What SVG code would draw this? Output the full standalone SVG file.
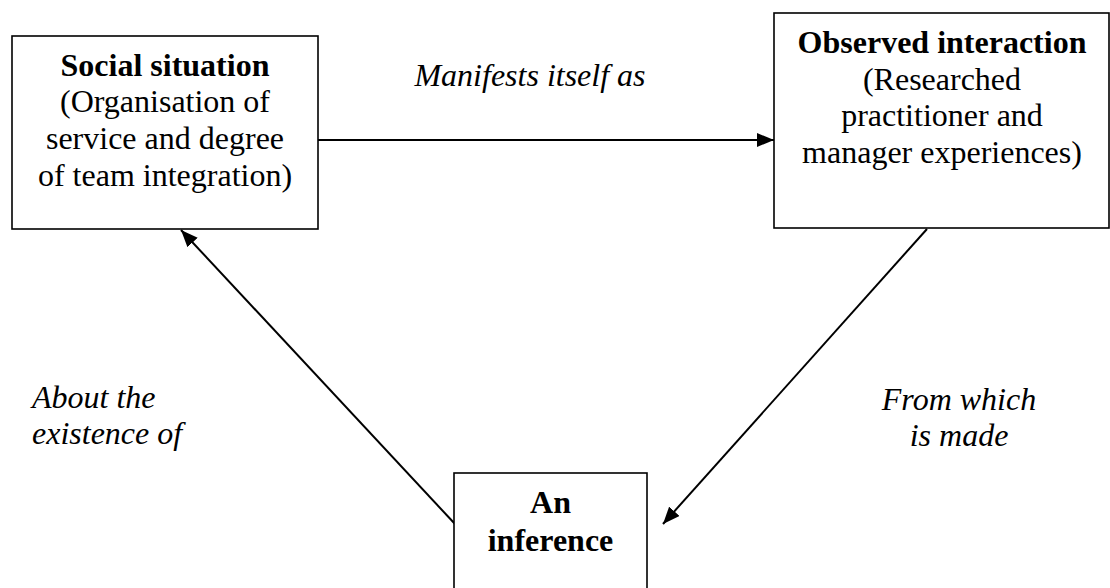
<svg xmlns="http://www.w3.org/2000/svg" width="1110" height="588" viewBox="0 0 1110 588">
  <style>
    .box { fill: #ffffff; stroke: #000000; stroke-width: 1.6; }
    .t { font-family: 'Liberation Serif', 'Times New Roman', serif; font-size: 32px; fill: #000000; text-anchor: middle; }
    .b { font-weight: bold; }
    .i { font-style: italic; }
    .conn { stroke: #000000; stroke-width: 2; fill: none; marker-end: url(#arrow); }
  </style>
  <defs>
    <marker id="arrow" markerUnits="userSpaceOnUse" markerWidth="18" markerHeight="14" refX="17" refY="7" orient="auto">
      <path d="M0,0 L17,7 L0,14 Z" fill="#000000"/>
    </marker>
  </defs>
  <rect width="1110" height="588" fill="#ffffff"/>

  <g id="connectors">
    <line class="conn" x1="318" y1="140" x2="774" y2="140"/>
    <line class="conn" x1="455" y1="524" x2="181" y2="230"/>
    <line class="conn" x1="927" y1="229" x2="663" y2="524"/>
    <text class="t i" x="530" y="86">Manifests itself as</text>
    <text class="t i" x="32" y="408" style="text-anchor:start">About the</text>
    <text class="t i" x="32" y="444" style="text-anchor:start">existence of</text>
    <text class="t i" x="959" y="410">From which</text>
    <text class="t i" x="959" y="446">is made</text>
  </g>

  <g id="social-situation">
    <rect class="box" x="12" y="36" width="306" height="193"/>
    <text class="t b" x="165" y="76">Social situation</text>
    <text class="t" x="165" y="112">(Organisation of</text>
    <text class="t" x="165" y="149">service and degree</text>
    <text class="t" x="165" y="186">of team integration)</text>
  </g>

  <g id="observed-interaction">
    <rect class="box" x="774" y="13" width="335" height="215"/>
    <text class="t b" x="942" y="53">Observed interaction</text>
    <text class="t" x="942" y="90">(Researched</text>
    <text class="t" x="942" y="126">practitioner and</text>
    <text class="t" x="942" y="163">manager experiences)</text>
  </g>

  <g id="inference">
    <rect class="box" x="454" y="473" width="193" height="130"/>
    <text class="t b" x="550.5" y="513">An</text>
    <text class="t b" x="550.5" y="551">inference</text>
  </g>
</svg>
